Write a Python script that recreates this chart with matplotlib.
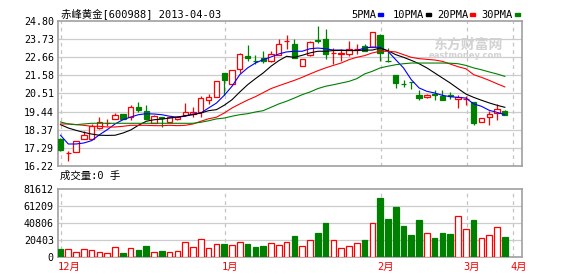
import matplotlib
matplotlib.use("Agg")
import matplotlib.pyplot as plt
from matplotlib.patches import Rectangle
import numpy as np

# ── data ─────────────────────────────────────────────────────────────────────
opens = [17.81, 16.97, 17.02, 17.82, 17.82, 18.46, 18.76, 19.00, 19.29, 19.10,
         19.71, 19.45, 18.76, 19.10, 18.80, 19.00, 19.23, 19.29, 19.39, 20.14,
         20.28, 21.73, 21.07, 21.97, 22.72, 22.46, 22.62, 22.42, 22.82, 23.61,
         23.45, 22.13, 22.78, 23.67, 23.75, 22.91, 22.88, 22.86, 23.17, 23.34,
         23.25, 24.00, 22.46, 21.59, 21.10, 21.19, 20.44, 20.30, 20.46, 20.38,
         20.40, 20.17, 20.18, 19.99, 18.80, 19.11, 19.35, 19.45]
highs = [17.85, 17.11, 17.71, 18.30, 18.70, 19.10, 19.00, 19.35, 19.29, 19.81,
         20.00, 19.81, 19.25, 19.12, 19.10, 19.18, 19.94, 19.71, 20.34, 20.46,
         21.23, 21.75, 21.89, 22.93, 23.37, 22.78, 23.02, 23.05, 23.75, 23.97,
         23.75, 22.56, 23.62, 24.50, 24.34, 23.21, 23.15, 23.61, 23.45, 23.45,
         24.16, 24.05, 23.23, 21.59, 21.29, 21.19, 20.74, 20.50, 20.74, 20.74,
         20.58, 20.40, 20.34, 19.99, 19.05, 19.45, 19.89, 19.51]
lows = [17.12, 16.52, 17.02, 17.80, 17.82, 18.40, 18.60, 19.00, 19.01, 18.95,
        19.39, 19.01, 18.76, 18.54, 18.80, 18.95, 19.15, 19.13, 19.14, 19.88,
        20.28, 20.44, 21.00, 21.73, 22.42, 22.26, 22.32, 22.36, 22.82, 23.17,
        22.62, 22.13, 22.72, 23.51, 22.58, 22.28, 22.42, 22.75, 22.88, 23.02,
        23.25, 22.46, 22.36, 20.84, 20.88, 20.78, 20.14, 20.24, 20.14, 20.14,
        20.20, 19.65, 19.81, 18.66, 18.80, 18.66, 18.95, 19.21]
closes = [17.17, 16.97, 17.71, 18.06, 18.56, 18.80, 18.76, 19.22, 19.01, 19.69,
          19.55, 19.01, 19.16, 19.06, 19.10, 19.13, 19.39, 19.41, 20.24, 20.32,
          21.23, 21.33, 21.89, 22.86, 22.64, 22.42, 22.42, 22.86, 23.45, 23.61,
          22.62, 22.56, 23.55, 23.63, 22.88, 22.91, 22.88, 23.17, 23.17, 23.05,
          24.16, 22.91, 22.42, 21.13, 21.07, 21.17, 20.24, 20.44, 20.44, 20.14,
          20.38, 20.30, 20.18, 18.76, 19.05, 19.31, 19.57, 19.21]
volumes = [9600, 9300, 6000, 9300, 8400, 6000, 4800, 12000, 4800, 10400,
           8400, 13200, 6000, 7200, 6000, 7200, 18000, 12000, 21200, 10400,
           15600, 15600, 14400, 18000, 15600, 12000, 13200, 16400, 14400, 18000,
           25200, 13200, 20000, 29200, 41200, 20000, 10400, 13200, 16800, 20400,
           40800, 70800, 45600, 60400, 37200, 26400, 44400, 28800, 22800, 28800,
           27600, 49200, 33600, 44400, 22400, 26400, 35600, 24000]

ma5 = [18.03, 17.51, 17.51, 17.57, 17.71, 18.06, 18.36, 18.70, 18.95, 19.11,
       19.25, 19.31, 19.29, 19.25, 19.16, 19.10, 19.16, 19.29, 19.35, 19.65,
       19.94, 20.40, 20.94, 21.63, 22.03, 22.32, 22.52, 22.68, 22.86, 22.98,
       23.02, 23.02, 23.17, 23.21, 23.17, 23.09, 23.09, 23.07, 23.07, 23.21,
       23.27, 23.25, 23.02, 22.52, 22.03, 21.33, 20.84, 20.64, 20.54, 20.40,
       20.32, 20.28, 20.24, 19.89, 19.75, 19.51, 19.39, 19.25]
ma10 = [18.66, 18.46, 18.32, 18.20, 18.10, 18.03, 18.02, 18.03, 18.16, 18.34,
        18.62, 18.86, 18.95, 18.99, 19.05, 19.11, 19.19, 19.25, 19.35, 19.49,
        19.55, 19.81, 20.14, 20.60, 21.03, 21.39, 21.73, 22.13, 22.46, 22.72,
        22.66, 22.78, 22.92, 23.02, 23.02, 23.06, 23.07, 23.06, 23.06, 23.09,
        23.09, 23.21, 23.05, 22.82, 22.66, 22.48, 22.28, 22.03, 21.73, 21.43,
        21.13, 20.80, 20.48, 20.28, 20.11, 19.95, 19.81, 19.69]
ma20 = [18.70, 18.70, 18.66, 18.62, 18.56, 18.56, 18.52, 18.52, 18.56, 18.62,
        18.62, 18.62, 18.60, 18.60, 18.62, 18.60, 18.62, 18.70, 18.86, 19.01,
        19.10, 19.35, 19.65, 19.89, 20.12, 20.32, 20.56, 20.80, 20.97, 21.13,
        21.29, 21.47, 21.67, 21.86, 22.03, 22.18, 22.32, 22.52, 22.66, 22.76,
        22.92, 23.02, 23.02, 22.98, 22.82, 22.66, 22.58, 22.54, 22.50, 22.42,
        22.26, 22.10, 21.98, 21.63, 21.47, 21.29, 21.09, 20.90]
ma30 = [18.82, 18.70, 18.66, 18.70, 18.74, 18.74, 18.74, 18.74, 18.74, 18.74,
        18.74, 18.74, 18.74, 18.74, 18.74, 18.74, 18.74, 18.74, 18.80, 18.89,
        19.00, 19.05, 19.16, 19.25, 19.31, 19.41, 19.49, 19.69, 19.89, 20.05,
        20.24, 20.44, 20.60, 20.80, 20.94, 21.03, 21.13, 21.23, 21.39, 21.67,
        21.83, 22.03, 22.13, 22.22, 22.28, 22.32, 22.32, 22.32, 22.32, 22.32,
        22.31, 22.28, 22.18, 22.03, 21.92, 21.79, 21.67, 21.53]

price_ticks = [16.22, 17.29, 18.37, 19.44, 20.51, 21.58, 22.66, 23.73, 24.80]
vol_ticks = [0, 20403, 40806, 61209, 81612]
month_pos = [0, 21, 41, 52, 58]
month_labels = ["12月", "1月", "2月", "3月", "4月"]
ma_names = ["5PMA", "10PMA", "20PMA", "30PMA"]

# ── style ────────────────────────────────────────────────────────────────────
RED, GREEN, BLUE = "#ff0000", "#008000", "#0000ff"
SPINE, GRID, VGRID = "#a0a0a0", "#cccccc", "#c4c4c4"
FONT = ["DejaVu Sans Mono", "Noto Sans CJK SC"]
plt.rcParams["font.family"] = FONT

W, H = 578, 276
fig = plt.figure(figsize=(W / 100, H / 100), dpi=100)
fig.patch.set_facecolor("white")

ax_p = fig.add_axes([58 / W, 1 - 165.7 / H, 464 / W, 144.4 / H])
ax_v = fig.add_axes([58 / W, 1 - 257 / H, 464 / W, 68 / H])

x = np.arange(len(opens))
o, h, l, c = map(np.array, (opens, highs, lows, closes))
up = c >= o
cols = np.where(up, RED, GREEN)


def frame(ax):
    for s in ax.spines.values():
        s.set_color(SPINE)
        s.set_linewidth(1.2)
    ax.set_xlim(-0.32, 59.2)
    ax.set_xticks([])
    ax.tick_params(axis="y", length=0, pad=3, labelsize=7.2, colors="black")
    for m in month_pos:
        ax.axvline(m + 0.1, color=VGRID, lw=0.9, ls=(0, (3, 3)), zorder=0)


# ── price panel ──────────────────────────────────────────────────────────────
frame(ax_p)
ax_p.set_ylim(price_ticks[0], price_ticks[-1])
ax_p.set_yticks(price_ticks)
ax_p.set_yticklabels([f"{t:.2f}" for t in price_ticks])
for t in price_ticks[1:-1]:
    ax_p.axhline(t, color=GRID, lw=0.9, zorder=0)

# watermark
ax_p.text(0.958, 0.838, "东方财富网", transform=ax_p.transAxes, ha="right",
          va="center", fontsize=10, color="#d2d2d2", fontweight="bold",
          family="Noto Sans CJK SC", zorder=1)
ax_p.text(0.958, 0.76, "eastmoney.com", transform=ax_p.transAxes, ha="right",
          va="center", fontsize=6, color="#d2d2d2", fontweight="bold",
          family="DejaVu Sans", zorder=1)

ax_p.vlines(x, l, h, colors=cols, lw=0.9, zorder=3)
body = np.maximum(np.abs(c - o), 0.012)
ax_p.bar(x, body, bottom=np.minimum(o, c), width=0.68,
         color=np.where(up, "white", GREEN), edgecolor=cols, lw=0.9, zorder=4)

for vals, col in zip([ma5, ma10, ma20, ma30], [BLUE, "black", RED, GREEN]):
    ax_p.plot(x, vals, color=col, lw=0.8, zorder=5)

# ── volume panel ─────────────────────────────────────────────────────────────
frame(ax_v)
ax_v.set_ylim(vol_ticks[0], vol_ticks[-1])
ax_v.set_yticks(vol_ticks)
ax_v.set_yticklabels([str(t) for t in vol_ticks])
for t in vol_ticks[1:-1]:
    ax_v.axhline(t, color=GRID, lw=0.9, zorder=0)
ax_v.bar(x, volumes, width=0.72, color=np.where(up, "white", GREEN),
         edgecolor=cols, lw=0.9, zorder=3)

for m, lab in zip(month_pos, month_labels):
    xp = ax_v.transData.transform((m, 0))[0] / fig.dpi / (W / 100)
    fig.text(xp - 2.5 / W, 1 - 266.7 / H, lab, color=RED, fontsize=7.5,
             ha="left", va="center")

# ── header texts ─────────────────────────────────────────────────────────────
fig.text(61 / W, 1 - 13.5 / H, "赤峰黄金[600988] 2013-04-03", fontsize=7.5,
         ha="left", va="center")
fig.text(60 / W, 1 - 176 / H, "成交量:0 手", fontsize=7.5, ha="left",
         va="center")

leg_x = [351, 392.5, 437, 481.5]
for name, lx, col in zip(ma_names, leg_x, [BLUE, "black", RED, GREEN]):
    fig.text(lx / W, 1 - 14.5 / H, name, fontsize=7.5, ha="left", va="center")
    dx = lx + 6.2 * len(name) + 2
    fig.patches.append(Rectangle((dx / W, 1 - 15.5 / H), 5 / W, 2 / H,
                                 transform=fig.transFigure, color=col))

fig.savefig("out.png", dpi=100, facecolor="white")
